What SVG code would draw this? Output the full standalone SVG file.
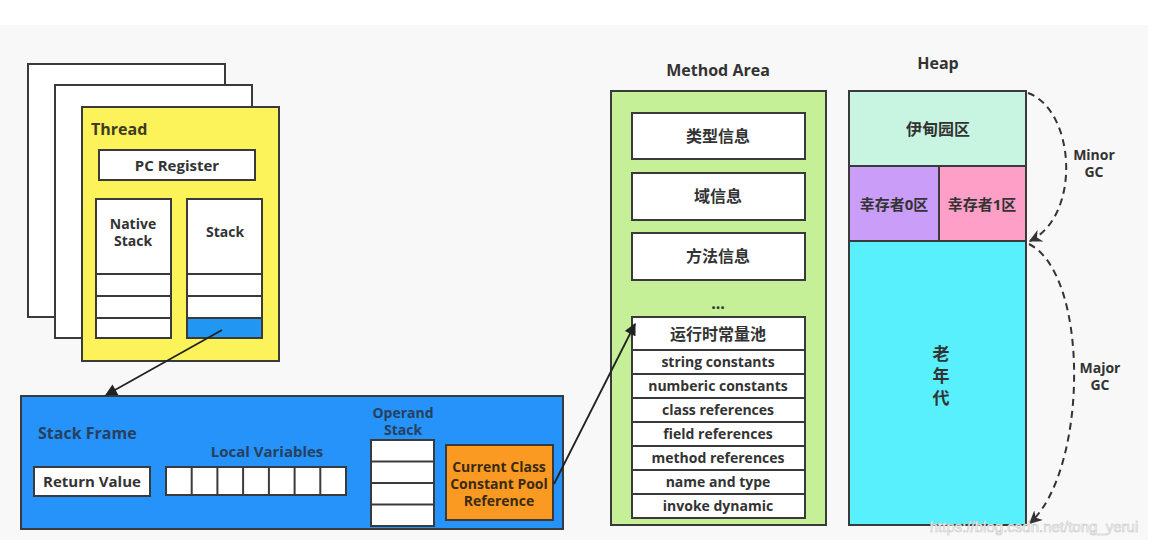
<svg xmlns="http://www.w3.org/2000/svg" width="1152" height="546" viewBox="0 0 1152 546">
<style>
  text { font-family: "Open Sans", "Noto Sans CJK SC", sans-serif; font-weight: bold; fill: #333; text-anchor: middle; }
  .box { stroke: #3a3a3a; stroke-width: 2; }
  .w { fill: #ffffff; }
  .t13 { font-size: 14px; }
  .t14 { font-size: 15px; }
  .t15 { font-size: 16px; }
  .t17 { font-size: 17px; }
  .left { text-anchor: start; }
  .conn { stroke: #222; stroke-width: 1.8; fill: none; }
  .dash { stroke: #333; stroke-width: 2; fill: none; stroke-dasharray: 7 5; }
</style>
<defs>
  <marker id="arrow" viewBox="0 0 10 10" refX="9" refY="5" markerWidth="13" markerHeight="12" markerUnits="userSpaceOnUse" orient="auto">
    <path d="M0,0 L10,5 L0,10 Z" fill="#222"/>
  </marker>
  <marker id="arrowD" viewBox="0 0 10 10" refX="9" refY="5" markerWidth="13" markerHeight="13" markerUnits="userSpaceOnUse" orient="auto">
    <path d="M0,0 L10,5 L0,10 L3,5 Z" fill="#333"/>
  </marker>
</defs>
<rect x="0" y="0" width="1152" height="546" fill="#ffffff"/>
<rect x="0" y="25" width="1148" height="515" fill="#f7f8f7"/>

<g id="thread-pages">
  <rect class="box w" x="28" y="64" width="197" height="253"/>
  <rect class="box w" x="55" y="85" width="197" height="253"/>
</g>

<g id="thread">
  <rect class="box" x="82" y="107" width="197" height="254" fill="#fcf25a"/>
  <text class="t15 left" x="91" y="135" style="fill:#3e3b22">Thread</text>
</g>

<g id="pc-register">
  <rect class="box w" x="99" y="150" width="156" height="30"/>
  <text class="t14" x="177" y="171">PC Register</text>
</g>

<g id="native-stack">
  <rect class="box w" x="96" y="199" width="75" height="139"/>
  <line class="box" x1="96" y1="274" x2="171" y2="274"/>
  <line class="box" x1="96" y1="296" x2="171" y2="296"/>
  <line class="box" x1="96" y1="318" x2="171" y2="318"/>
  <text class="t13" x="133" y="229">Native</text>
  <text class="t13" x="133" y="246">Stack</text>
</g>

<g id="stack">
  <rect class="box w" x="187" y="199" width="75" height="139"/>
  <rect x="187" y="318" width="75" height="20" fill="#2196f3"/>
  <rect class="box" x="187" y="199" width="75" height="139" fill="none"/>
  <line class="box" x1="187" y1="274" x2="262" y2="274"/>
  <line class="box" x1="187" y1="296" x2="262" y2="296"/>
  <line class="box" x1="187" y1="318" x2="262" y2="318"/>
  <text class="t13" x="225" y="237">Stack</text>
</g>

<g id="stack-frame">
  <rect class="box" x="21" y="396" width="542" height="133" fill="#2693fb"/>
  <text class="t15 left" x="38" y="439" style="fill:#26405e">Stack Frame</text>
  <text class="t14" x="267" y="457" style="fill:#26405e">Local Variables</text>
  <text class="t13" x="403" y="418" style="fill:#26405e">Operand</text>
  <text class="t13" x="403" y="435" style="fill:#26405e">Stack</text>
</g>

<g id="return-value">
  <rect class="box w" x="34" y="467" width="116" height="29"/>
  <text class="t14" x="92" y="487">Return Value</text>
</g>

<g id="local-variables">
  <rect class="box w" x="166" y="467" width="180" height="28"/>
  <line class="box" x1="191.7" y1="467" x2="191.7" y2="495"/>
  <line class="box" x1="217.4" y1="467" x2="217.4" y2="495"/>
  <line class="box" x1="243.1" y1="467" x2="243.1" y2="495"/>
  <line class="box" x1="268.9" y1="467" x2="268.9" y2="495"/>
  <line class="box" x1="294.6" y1="467" x2="294.6" y2="495"/>
  <line class="box" x1="320.3" y1="467" x2="320.3" y2="495"/>
</g>

<g id="operand-stack">
  <rect class="box w" x="371" y="440" width="63" height="86"/>
  <line class="box" x1="371" y1="461.5" x2="434" y2="461.5"/>
  <line class="box" x1="371" y1="483" x2="434" y2="483"/>
  <line class="box" x1="371" y1="504.5" x2="434" y2="504.5"/>
</g>

<g id="constant-pool-ref">
  <rect class="box" x="446" y="445" width="107" height="75" fill="#fb9a23"/>
  <text class="t13" x="499" y="472" style="fill:#3a2a10">Current Class</text>
  <text class="t13" x="499" y="489" style="fill:#3a2a10">Constant Pool</text>
  <text class="t13" x="499" y="506" style="fill:#3a2a10">Reference</text>
</g>

<g id="method-area">
  <text class="t15" x="718" y="76">Method Area</text>
  <rect class="box" x="611" y="91" width="215" height="434" fill="#c6f098"/>
  <text class="t15" x="718" y="309">...</text>
</g>

<g id="type-info">
  <rect class="box w" x="632" y="113" width="173" height="46"/>
  <text class="t15" x="718" y="142">类型信息</text>
</g>
<g id="field-info">
  <rect class="box w" x="632" y="173" width="173" height="47"/>
  <text class="t15" x="718" y="202">域信息</text>
</g>
<g id="method-info">
  <rect class="box w" x="632" y="233" width="173" height="47"/>
  <text class="t15" x="718" y="262">方法信息</text>
</g>

<g id="runtime-constant-pool">
  <rect class="box w" x="632" y="317" width="173" height="201"/>
  <line class="box" x1="632" y1="350" x2="805" y2="350"/>
  <line class="box" x1="632" y1="374" x2="805" y2="374"/>
  <line class="box" x1="632" y1="398" x2="805" y2="398"/>
  <line class="box" x1="632" y1="422" x2="805" y2="422"/>
  <line class="box" x1="632" y1="446" x2="805" y2="446"/>
  <line class="box" x1="632" y1="470" x2="805" y2="470"/>
  <line class="box" x1="632" y1="494" x2="805" y2="494"/>
  <text class="t15" x="718" y="340">运行时常量池</text>
  <text class="t13" x="718" y="367">string constants</text>
  <text class="t13" x="718" y="391">numberic constants</text>
  <text class="t13" x="718" y="415">class references</text>
  <text class="t13" x="718" y="439">field references</text>
  <text class="t13" x="718" y="463">method references</text>
  <text class="t13" x="718" y="487">name and type</text>
  <text class="t13" x="718" y="511">invoke dynamic</text>
</g>

<g id="heap">
  <text class="t15" x="938" y="69">Heap</text>
</g>
<g id="eden">
  <rect class="box" x="849" y="91" width="177" height="75" fill="#c8f5e1"/>
  <text class="t15" x="938" y="135">伊甸园区</text>
</g>
<g id="survivor0">
  <rect class="box" x="849" y="166" width="90" height="75" fill="#c99df8"/>
  <text class="t14" x="894" y="210">幸存者0区</text>
</g>
<g id="survivor1">
  <rect class="box" x="939" y="166" width="87" height="75" fill="#fd9fc6"/>
  <text class="t14" x="982" y="210">幸存者1区</text>
</g>
<g id="old-gen">
  <rect class="box" x="849" y="241" width="177" height="284" fill="#58f0fd"/>
  <text class="t17" x="941" y="360">老</text>
  <text class="t17" x="941" y="382">年</text>
  <text class="t17" x="941" y="404">代</text>
</g>

<g id="gc-labels">
  <text class="t13" x="1094" y="160">Minor</text>
  <text class="t13" x="1094" y="177">GC</text>
  <text class="t13" x="1100" y="373">Major</text>
  <text class="t13" x="1100" y="390">GC</text>
</g>

<g id="connectors">
  <line class="conn" x1="222" y1="330" x2="106" y2="395" marker-end="url(#arrow)"/>
  <line class="conn" x1="554" y1="484" x2="635" y2="324" marker-end="url(#arrow)"/>
  <path class="dash" d="M1028,93 C1075,110 1082,215 1030,241" marker-end="url(#arrowD)"/>
  <path class="dash" d="M1029,244 C1090,275 1088,470 1030,523" marker-end="url(#arrowD)"/>
</g>

<text x="1034" y="532" style="font-family:'Liberation Sans',sans-serif;font-weight:normal;font-size:15px;fill:#ffffff;stroke:#c8c8c8;stroke-width:0.6">https://blog.csdn.net/tong_yerui</text>
</svg>
